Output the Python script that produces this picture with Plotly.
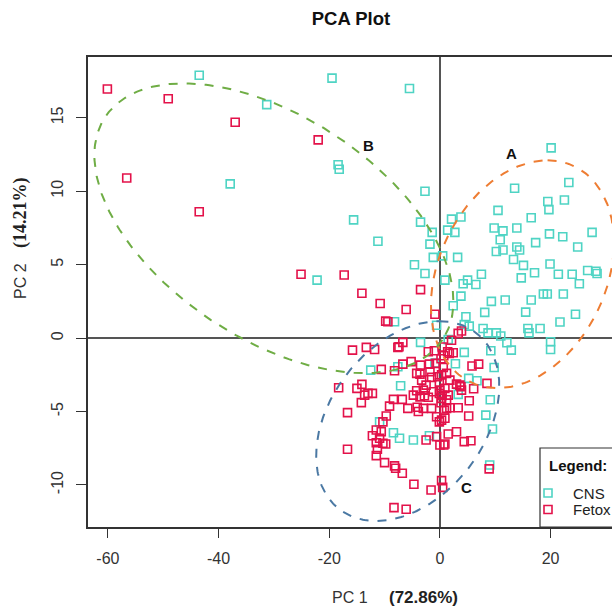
import numpy as np
import plotly.graph_objects as go

# ---------------- data ----------------
cns_x = [-43.5, -19.5, -31.3, -18.4, -18.2, -37.9, -22.2, -5.5, 20.1, -2.7, -15.6, -11.2, -3.5, -1.4, -1.8,
         -1.2, -4.6, -2.7, 0.5, 2.1, 3.8, 1.4, 2.7, 3.2, 0.9, 5.0, 4.2, 6.5, 7.5, 3.8, 9.3, 11.8, 13.5, 10.5,
         16.5, 19.5, 19.7, 22.5, 23.3, 9.8, 11.4, 13.9, 10.9, 10.2, 11.4, 13.9, 14.4, 13.3, 15.1, 17.3, 19.8,
         22.2, 27.5, 24.9, 19.9, 17.1, 14.7, 21.4, 23.9, 25.2, 26.7, 28.2, 28.4, 18.7, 19.4, 22.3, 16.5,
         2.4, 8.1, 15.5, 24.5, 21.7, 4.7, 4.4, 5.3, 7.8, 8.7, 10.2, 11.0, 15.9, 16.1, 18.1, 20.0, 20.0, 12.1,
         12.9, 9.2, 4.4, 2.8, 9.8, 5.2, 6.7, 3.3, 9.1, 8.3, 9.5, 9.0,
         -8.2, -0.6, -3.5, -12.5, -7.6, -7.1, -10.9, -8.4, -7.3, -4.8, -1.9, 1.5, -0.9]
cns_y = [17.9, 17.7, 15.9, 11.8, 11.5, 10.5, 3.95, 17.0, 12.95, 10.0, 8.05, 6.6, 7.9, 7.2, 6.4,
         5.5, 5.0, 4.4, 5.6, 8.1, 8.25, 7.35, 7.2, 5.5, 3.95, 3.95, 3.7, 3.65, 4.35, 2.86, 2.5, 2.6, 10.2, 8.7,
         8.2, 9.3, 8.75, 9.4, 10.6, 7.5, 7.3, 7.5, 6.7, 5.9, 6.0, 6.2, 6.0, 5.35, 4.95, 6.5, 7.1,
         6.9, 7.2, 6.2, 5.05, 4.45, 4.1, 4.35, 4.35, 3.7, 4.6, 4.55, 4.4, 3.0, 3.0, 3.0, 2.6,
         2.2, 1.75, 1.77, 1.63, 1.1, 1.45, 0.93, 0.82, 0.66, 0.36, 0.36, 0.14, 0.66, 0.36, 0.66, -0.25, -0.77, -0.32,
         -0.82, -0.86, -0.97, -1.75, -2.0, -2.74, -2.9, -3.83, -4.2, -5.24, -6.19, -8.64,
         1.11, 0.88, -0.29, -2.18, -1.95, -3.24, -5.7, -6.44, -6.82, -6.94, -6.65, -0.1, -1.7]

fetox_x = [-60.1, -49.1, -37.0, -22.0, -56.6, -43.5, -25.1, -17.3, -14.1, -3.5, -10.8,
           -6.1, -9.8, -9.4, -0.9, -15.8, -13.3, -11.8, -7.6, -6.7, -2.1, -1.0, 1.4, -5.2, -6.7, -10.6, -8.2,
           -3.5, -1.9, -0.7, -3.6, -1.8, -1.5, -0.4, -3.3, -2.5, -0.1, -18.3, -15.0, -14.1, -13.6, -13.0, -12.2,
           -14.2, -4.2, -4.8, -2.8, -2.1, -0.1, 0.3, -8.4, -6.8, -9.1, -5.8, -4.1, -3.0, -3.9, -1.5, -16.7,
           -9.7, -10.3, -0.6, -0.1, -11.5, -12.2, -10.6, -2.5, -0.6, 0.0, 0.9, -10.9, -11.5, -10.3, -9.8,
           -16.7, -11.3, -11.5, -10.0, -8.2, -8.0, -6.8, -4.7, -1.6, 0.3, 0.5, -8.3, -6.1,
           3.9, 3.3, 2.1, 1.7, 5.8, 7.0, 3.0, 3.8, 6.1, 8.5, 5.3, 1.2, 1.8, 3.3, 0.9, 1.5, 3.0, 4.4, 5.6, 0.7,
           8.9, -7.4, 2.4, -4.2, 0.3, 1.2, 1.8, 0.0, 0.9, 1.5, 3.6, 3.9, -1.2, -3.0, -3.6, 1.2, 0.3, 5.2,
           0.4, 0.2, 0.6, 0.4, 0.2, 0.8, 0.7]
fetox_y = [16.96, 16.3, 14.7, 13.5, 10.9, 8.6, 4.35, 4.3, 3.06, 3.3, 2.36,
           1.95, 1.16, 1.11, 1.63, -0.82, -0.63, -0.77, -0.63, -0.29, -0.93, -0.86, -0.93, -1.6, -1.77, -2.13, -2.22,
           -1.84, -1.77, -1.72, -2.45, -2.29, -2.67, -2.63, -2.86, -3.2, -3.04, -3.38, -3.42, -3.15, -3.88, -3.76, -3.76,
           -4.39, -3.58, -3.88, -3.92, -4.03, -3.76, -4.1, -4.17, -4.17, -4.63, -4.78, -4.71, -4.78, -5.0, -4.78, -5.07,
           -5.3, -5.7, -5.35, -5.7, -6.26, -6.65, -6.37, -6.94, -6.71, -7.28, -7.21, -6.82, -7.12, -7.16, -7.21,
           -7.57, -7.57, -8.0, -8.48, -8.7, -8.86, -9.2, -9.95, -10.34, -9.7, -10.16, -11.54, -11.65,
           0.48, 0.32, -0.14, -1.04, -1.9, -1.77, -3.13, -3.31, -3.45, -3.08, -4.26, -4.2, -4.74, -4.74, -5.46, -6.53, -6.37, -7.05, -6.99, -7.28,
           -8.9, -0.59, -1.0, -2.4, -2.5, -2.4, -2.86, -3.54, -3.42, -3.88, -3.2, -3.54, -3.65, -3.54, -4.0, -4.78, -5.58, -5.3,
           -0.6, -1.4, -2.0, -3.9, -4.4, -4.9, -1.2]

series_names = ["CNS", "Fetox"]
series_colors = ["#4FD4C4", "#E3124A"]

# ellipse parameters: centre, conjugate semi-diameters (data units)
ell_names = ["A", "B", "C"]
ell_cx = [14.91, -30.0, -5.82]
ell_cy = [4.35, 7.48, -5.65]
ell_ux = [4.545, 30.45, 5.727]
ell_uy = [7.755, -7.60, 6.803]
ell_vx = [15.91, -11.22, 15.53]
ell_vy = [0.0, -6.29, 0.0]
ell_colors = ["#EE7D33", "#6FAD45", "#4A78A3"]
ell_label_x = [13.0, -12.9, 4.85]
ell_label_y = [12.6, 13.1, -10.2]

x_ticks = [-60, -40, -20, 0, 20]
x_tick_labels = ["-60", "-40", "-20", "0", "20"]
y_ticks = [-10, -5, 0, 5, 10, 15]
y_tick_labels = ["-10", "-5", "0", "5", "10", "15"]

# ---------------- figure ----------------
fig = go.Figure()

for name, xs, ys, col in [(series_names[0], cns_x, cns_y, series_colors[0]),
                          (series_names[1], fetox_x, fetox_y, series_colors[1])]:
    fig.add_trace(go.Scatter(x=xs, y=ys, mode="markers", name=name, showlegend=False,
                             marker=dict(symbol="square-open", size=8, color=col,
                                         line=dict(width=1.6, color=col))))

t = np.linspace(0, 2 * np.pi, 300)
for i in range(3):
    ex = ell_cx[i] + ell_ux[i] * np.cos(t) + ell_vx[i] * np.sin(t)
    ey = ell_cy[i] + ell_uy[i] * np.cos(t) + ell_vy[i] * np.sin(t)
    fig.add_trace(go.Scatter(x=ex, y=ey, mode="lines", showlegend=False, hoverinfo="skip",
                             line=dict(color=ell_colors[i], width=2, dash="dash")))
    fig.add_annotation(x=ell_label_x[i], y=ell_label_y[i], text="<b>%s</b>" % ell_names[i],
                       showarrow=False, font=dict(size=15, color="#111", family="Liberation Sans"))

# ---- legend drawn on an overlay axis measured in pixels of the plot area ----
L, R, T, B = 88, 612, 57, 527
leg_left, leg_top = 540, 448
key_x = 548
text_x = 571
row_y = [493, 509.5]
for i in range(2):
    fig.add_trace(go.Scatter(x=[key_x], y=[row_y[i]], xaxis="x2", yaxis="y2", mode="markers",
                             showlegend=False, hoverinfo="skip",
                             marker=dict(symbol="square-open", size=8, color=series_colors[i],
                                         line=dict(width=1.6, color=series_colors[i]))))
    fig.add_annotation(xref="x2", yref="y2", x=text_x, y=row_y[i], text=series_names[i],
                       xanchor="left", showarrow=False,
                       font=dict(size=15, color="#222", family="Liberation Sans"))
fig.add_annotation(xref="x2", yref="y2", x=key_x - 1, y=465, text="<b>Legend:</b>", xanchor="left",
                   showarrow=False, font=dict(size=15, color="#111", family="Liberation Sans"))
fig.add_shape(type="rect", xref="x2", yref="y2", x0=leg_left, x1=R + 40, y0=leg_top, y1=B,
              line=dict(color="#333", width=1.2), fillcolor="rgba(0,0,0,0)", layer="above")

axis_font = dict(size=16, color="#333", family="Liberation Sans")

fig.update_layout(
    width=612, height=607,
    margin=dict(l=L, r=612 - R, t=T, b=607 - B, autoexpand=False),
    paper_bgcolor="white", plot_bgcolor="white",
    title=dict(text="<b>PCA Plot</b>", x=351 / 612, xanchor="center", y=1 - 19 / 607, yanchor="middle",
               font=dict(size=18.5, color="#111", family="Liberation Sans")),
    showlegend=False,
    xaxis=dict(range=[-63.6, 31.1], tickvals=x_ticks, ticktext=x_tick_labels, ticks="outside", ticklen=9,
               tickwidth=1.3, tickcolor="#333", showline=True, linecolor="#333", linewidth=1.5, mirror=True,
               showgrid=False, zeroline=True, zerolinecolor="#555", zerolinewidth=1.6,
               tickfont=axis_font, ticklabelstandoff=7),
    yaxis=dict(range=[-12.86, 19.14], tickvals=y_ticks, ticktext=y_tick_labels, ticks="outside", ticklen=10,
               tickwidth=1.3, tickcolor="#333", showline=True, linecolor="#333", linewidth=1.5, mirror=False,
               showgrid=False, zeroline=True, zerolinecolor="#555", zerolinewidth=1.6,
               tickangle=-90, tickfont=axis_font, ticklabelstandoff=7),
    xaxis2=dict(range=[L, R], overlaying="x", visible=False, fixedrange=True),
    yaxis2=dict(range=[B, T], overlaying="y", visible=False, fixedrange=True),
)

# axis titles
fig.add_annotation(xref="paper", yref="paper", x=(350 - L) / (R - L), y=-(597 - B) / (B - T),
                   xanchor="center", yanchor="middle",
                   text="PC 1", showarrow=False, font=dict(size=16, color="#333", family="Liberation Sans"))
fig.add_annotation(xref="paper", yref="paper", x=(423 - L) / (R - L), y=-(597 - B) / (B - T),
                   xanchor="center", yanchor="middle",
                   text="<b>(72.86%)</b>", showarrow=False, font=dict(size=17, color="#222", family="Liberation Sans"))
fig.add_annotation(xref="paper", yref="paper", x=-(L - 20) / (R - L), y=(B - 281) / (B - T),
                   xanchor="center", yanchor="middle",
                   text="PC 2", textangle=-90, showarrow=False,
                   font=dict(size=16, color="#333", family="Liberation Sans"))
fig.add_annotation(xref="paper", yref="paper", x=-(L - 20) / (R - L), y=(B - 213) / (B - T),
                   xanchor="center", yanchor="middle",
                   text="<b>(14.21%)</b>", textangle=-90, showarrow=False,
                   font=dict(size=18, color="#222", family="Liberation Serif"))

fig.write_html("out.html")
